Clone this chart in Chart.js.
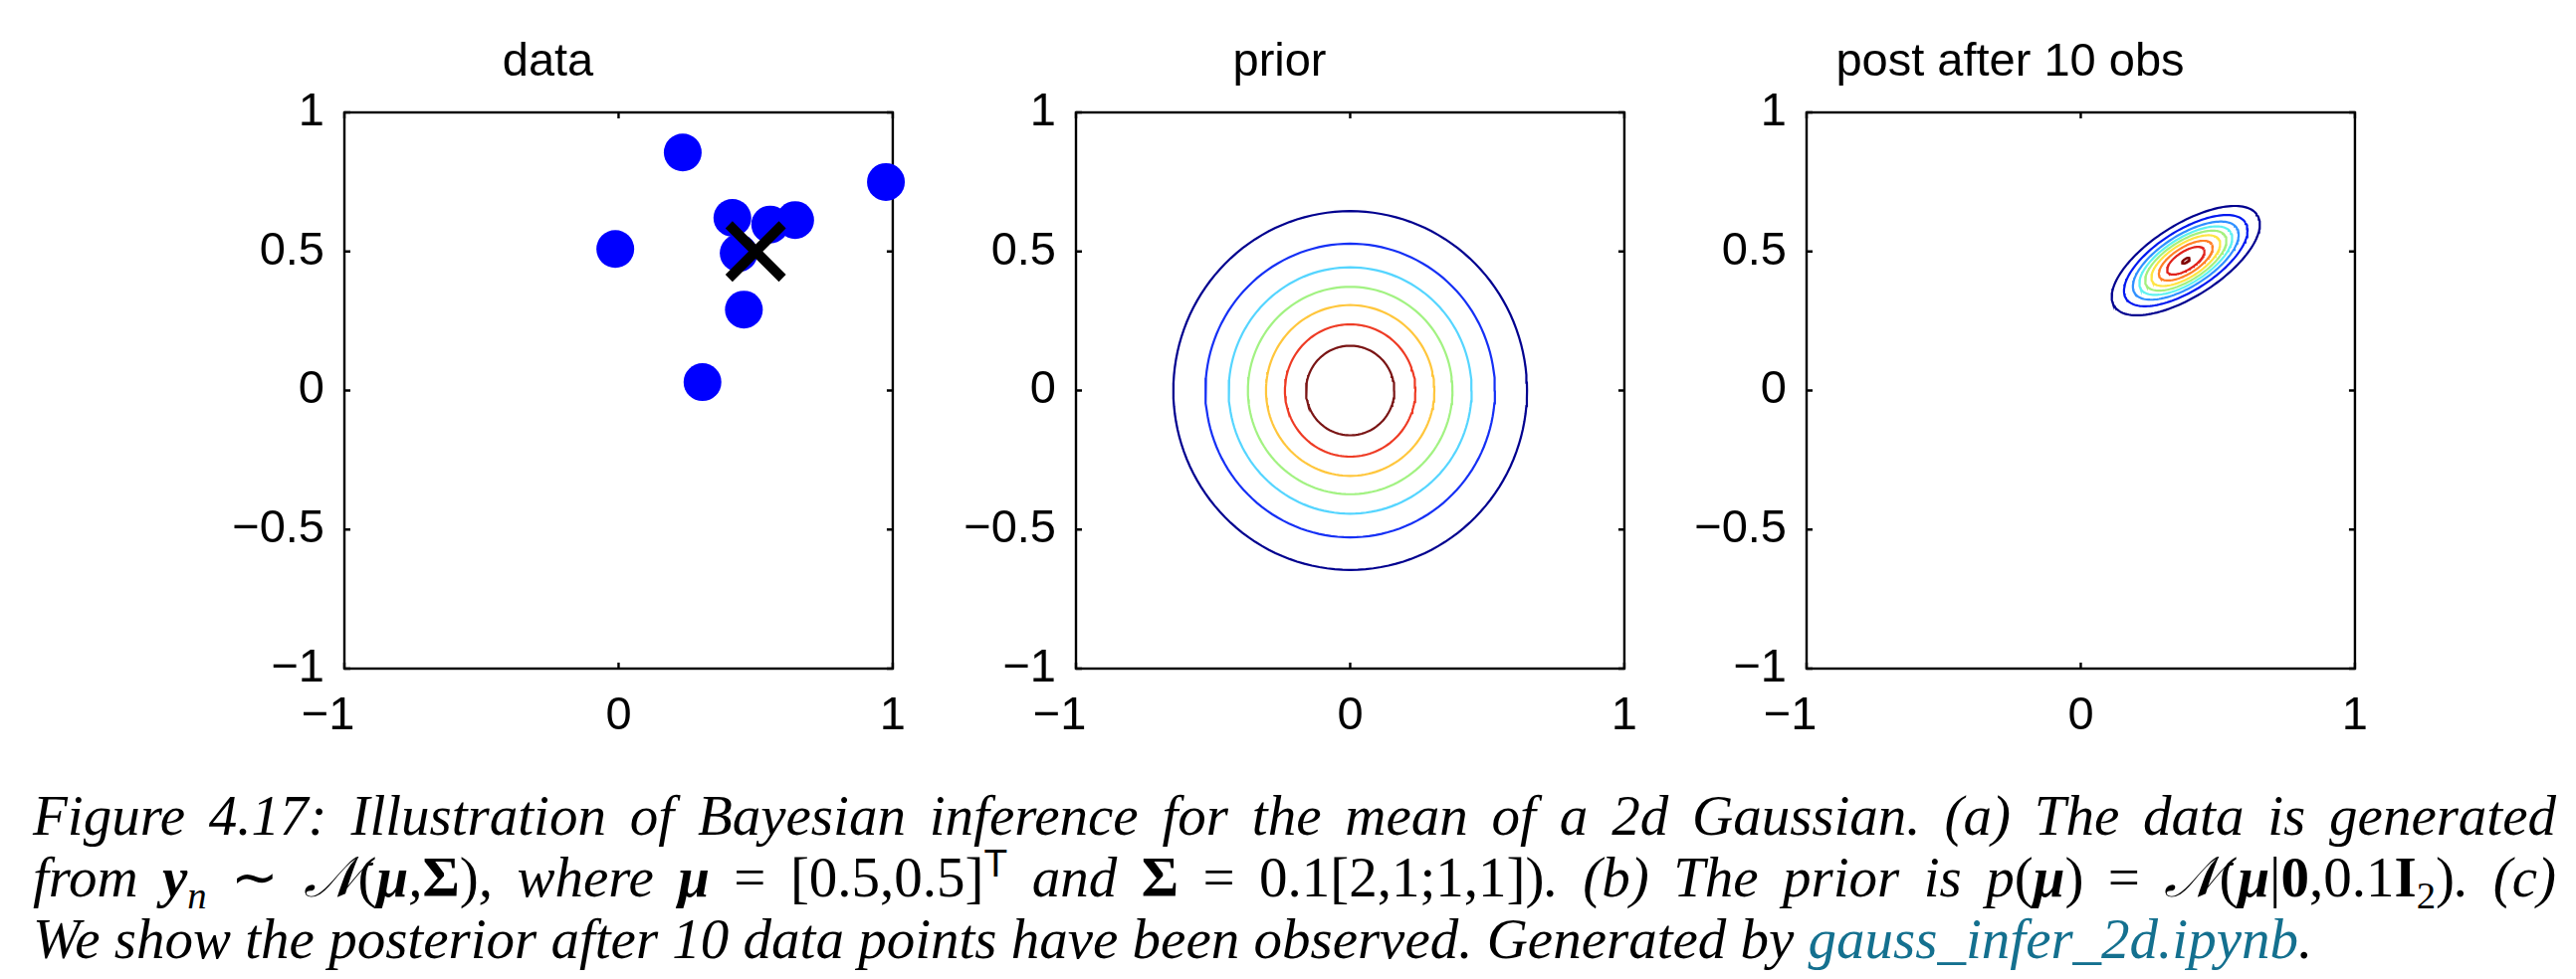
<!DOCTYPE html>
<html>
<head>
<meta charset="utf-8">
<script src="https://cdn.jsdelivr.net/npm/chart.js@4"></script>
<style>
body { margin: 0; width: 2588px; height: 984px; background: #fff; position: relative; overflow: hidden; }
canvas { position: absolute; top: 0; }
#caption { position: absolute; left: 33px; top: 789px; width: 2535px; font-family: "Liberation Serif", serif; font-style: italic; font-size: 57px; line-height: 62px; color: #000; }
#caption .j { text-align: justify; text-align-last: justify; }
#caption sub, #caption sup { line-height: 0; font-size: 0.68em; }
.m { font-style: normal; }
.t { font-family: "Liberation Sans", sans-serif; font-style: normal; }
.link { color: #14708f; }
</style>
</head>
<body>
<canvas id="cntx_data" width="734" height="772" style="left:196px"></canvas>
<canvas id="cntx_prior" width="734" height="772" style="left:931px"></canvas>
<canvas id="cntx_post" width="734" height="772" style="left:1665px"></canvas>
<div id="caption">
<div class="j">Figure 4.17: Illustration of Bayesian inference for the mean of a 2d Gaussian. (a) The data is generated</div>
<div class="j">from <b>y</b><sub>n</sub> <span class="m">∼</span> 𝒩<span class="m">(</span><b>μ</b>,<b class="m">Σ</b><span class="m">)</span>, where <b>μ</b> <span class="m">= [0.5,0.5]</span><sup class="t">T</sup> and <b class="m">Σ</b> <span class="m">= 0.1[2,1;1,1])</span>. (b) The prior is p<span class="m">(</span><b>μ</b><span class="m">) =</span> 𝒩<span class="m">(</span><b>μ</b><span class="m">|</span><b class="m">0</b><span class="m">,0.1</span><b class="m">I</b><sub class="m">2</sub><span class="m">)</span>. (c)</div>
<div>We show the posterior after 10 data points have been observed. Generated by <span class="link">gauss_infer_2d.ipynb</span>.</div>
</div>
<script>
const titles = ["data", "prior", "post after 10 obs"];
const xTicks = [-1, 0, 1];
const yTicks = [-1, -0.5, 0, 0.5, 1];

// (a) observed points and the true mean
const obsX = [0.234, 0.975, -0.012, 0.415, 0.553, 0.644, 0.438, 0.457, 0.306];
const obsY = [0.856, 0.750, 0.509, 0.621, 0.597, 0.613, 0.494, 0.291, 0.030];
const trueMean = [0.5, 0.5];

// (b) prior contour radii, outer to inner
const priorRadius = [0.645, 0.528, 0.443, 0.373, 0.307, 0.238, 0.161];
const priorColors = ["#00008f", "#1530f5", "#55d5ff", "#a2f282", "#ffc63c", "#ee3b24", "#7a1515"];

// (c) posterior contours: centre, semi-major axis per level, shape
const postCenter = [0.383, 0.467];
const postMajor = [0.308, 0.257, 0.220, 0.193, 0.169, 0.143, 0.112, 0.078, 0.016];
const postRatio = 0.42;
const postAngle = 32;
const postColors = ["#00008f", "#0018f0", "#3090ff", "#5ff2f0", "#a4f07e", "#ffe444", "#ff8028", "#e0221c", "#800000"];

const FONT = "'Liberation Sans', Arial, sans-serif";

ellipse = (cx, cy, a, b, deg) => {
	let t = deg * Math.PI / 180;
	let pts = [];
	for (let i = 0; i <= 144; i++) {
		let s = i / 144 * 2 * Math.PI;
		let u = a * Math.cos(s), v = b * Math.sin(s);
		pts.push({x: cx + u * Math.cos(t) - v * Math.sin(t), y: cy + u * Math.sin(t) + v * Math.cos(t)});
	}
	return pts;
};

contour = (pts, color) => ({
	data: pts,
	showLine: true,
	borderColor: color,
	borderWidth: 2.2,
	pointRadius: 0,
	fill: false,
	tension: 0,
});

// box round the axes with inward ticks on all four sides
const framePlugin = {
	id: "frame",
	beforeDatasetsDraw(chart) {
		const {ctx, chartArea: a, scales} = chart;
		ctx.save();
		ctx.strokeStyle = "#000";
		ctx.lineWidth = 2.4;
		ctx.strokeRect(a.left, a.top, a.right - a.left, a.bottom - a.top);
		ctx.beginPath();
		scales.x.ticks.forEach((t) => {
			let px = scales.x.getPixelForValue(t.value);
			ctx.moveTo(px, a.bottom); ctx.lineTo(px, a.bottom - 6);
			ctx.moveTo(px, a.top); ctx.lineTo(px, a.top + 6);
		});
		scales.y.ticks.forEach((t) => {
			let py = scales.y.getPixelForValue(t.value);
			ctx.moveTo(a.left, py); ctx.lineTo(a.left + 6, py);
			ctx.moveTo(a.right, py); ctx.lineTo(a.right - 6, py);
		});
		ctx.stroke();
		ctx.restore();
	},
};

tickLabel = (v) => String(v).replace("-", "\u2212");
// negative x labels hang left of the tick, as in the original
xTickLabel = (v) => v < 0 ? tickLabel(v) + "\u2002\u2009" : tickLabel(v);

drawChart = (canvas, title, datasets) => {
	new Chart(canvas, {
		type: "scatter",
		data: {datasets: datasets},
		options: {
			responsive: false,
			animation: false,
			layout: {autoPadding: false, padding: {right: 25, left: 0, top: 0, bottom: 0}},
			plugins: {
				legend: {display: false},
				tooltip: {enabled: false},
				title: {
					display: true,
					text: title,
					color: "#000",
					font: {family: FONT, size: 47, weight: "normal", lineHeight: 1},
					padding: {top: 40, bottom: 26},
				},
			},
			scales: {
				x: {
					type: "linear",
					min: -1,
					max: 1,
					afterBuildTicks: (s) => { s.ticks = xTicks.map((v) => ({value: v})); },
					afterFit: (s) => { s.height = 100; },
					grid: {display: false, drawTicks: false},
					border: {display: false},
					ticks: {color: "#000", font: {family: FONT, size: 47}, padding: 20, maxRotation: 0, autoSkip: false, callback: xTickLabel},
				},
				y: {
					type: "linear",
					min: -1,
					max: 1,
					afterBuildTicks: (s) => { s.ticks = yTicks.map((v) => ({value: v})); },
					afterFit: (s) => { s.width = 150; },
					grid: {display: false, drawTicks: false},
					border: {display: false},
					ticks: {color: "#000", font: {family: FONT, size: 47}, padding: 20, autoSkip: false, callback: tickLabel},
				},
			},
		},
		plugins: [framePlugin],
	});
};

const dataSets = [
	{
		data: [{x: trueMean[0], y: trueMean[1]}],
		pointStyle: "crossRot",
		pointRadius: 38,
		borderColor: "#000",
		borderWidth: 10,
		order: 0,
		clip: false,
	},
	{
		data: obsX.map((x, i) => ({x: x, y: obsY[i]})),
		pointStyle: "circle",
		pointRadius: 19,
		backgroundColor: "#0000ff",
		borderWidth: 0,
		order: 1,
		clip: false,
	},
];

const priorSets = priorRadius.map((r, i) => contour(ellipse(0, 0, r, r, 0), priorColors[i]));
const postSets = postMajor.map((a, i) => contour(ellipse(postCenter[0], postCenter[1], a, a * postRatio, postAngle), postColors[i]));

drawChart(document.querySelector("#cntx_data"), titles[0], dataSets);
drawChart(document.querySelector("#cntx_prior"), titles[1], priorSets);
drawChart(document.querySelector("#cntx_post"), titles[2], postSets);
</script>
</body>
</html>
